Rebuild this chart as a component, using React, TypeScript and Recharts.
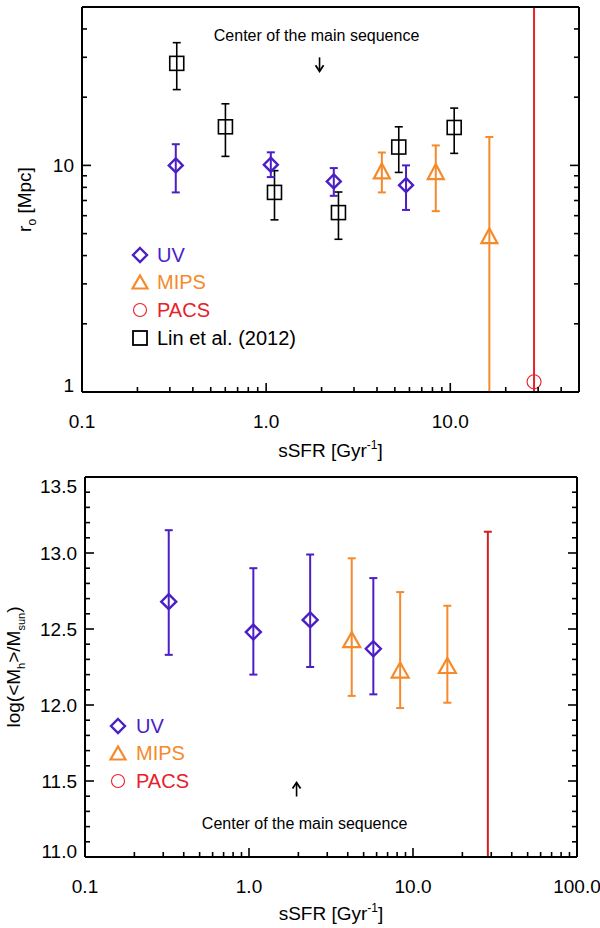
import React from "react";
import { ScatterChart, Scatter, XAxis, YAxis, ErrorBar, ReferenceDot, Legend, Label } from "recharts";

// ---- top panel: r0 vs sSFR ----
const uvTopX = [0.323, 1.06, 2.33, 5.75];
const uvTopY = [10.0, 10.07, 8.5, 8.18];
const uvTopLo = [7.6, 8.88, 7.34, 6.36];
const uvTopHi = [12.4, 11.42, 9.73, 10.0];

const mipsTopX = [4.25, 8.34, 16.3];
const mipsTopY = [9.31, 9.25, 4.82];
const mipsTopLo = [7.6, 6.28, 1.0];
const mipsTopHi = [11.4, 12.25, 13.35];

const pacsTopX = [28.5];
const pacsTopY = [1.11];
const pacsTopLo = [1.0];
const pacsTopHi = [50];

const linX = [0.327, 0.601, 1.11, 2.47, 5.25, 10.5];
const linY = [28.2, 14.8, 7.6, 6.19, 12.05, 14.7];
const linLo = [21.6, 10.96, 5.75, 4.72, 9.31, 11.3];
const linHi = [34.8, 18.7, 9.48, 7.63, 14.8, 17.9];

// ---- bottom panel: log halo mass vs sSFR ----
const uvBotX = [0.324, 1.063, 2.36, 5.73];
const uvBotY = [12.68, 12.48, 12.56, 12.37];
const uvBotLo = [12.33, 12.2, 12.25, 12.07];
const uvBotHi = [13.15, 12.9, 12.99, 12.835];

const mipsBotX = [4.23, 8.35, 16.2];
const mipsBotY = [12.42, 12.22, 12.25];
const mipsBotLo = [12.06, 11.98, 12.015];
const mipsBotHi = [12.965, 12.743, 12.653];

const pacsBotX = [28.6];
const pacsBotY = [11.0];
const pacsBotLo = [11.0];
const pacsBotHi = [13.14];

// axis ticks
const xMajorTop = [0.1, 1, 10];
const xMinorTop = [0.2, 0.3, 0.4, 0.5, 0.6, 0.7, 0.8, 0.9, 2, 3, 4, 5, 6, 7, 8, 9, 20, 30, 40];
const xMajorBot = [0.1, 1, 10, 100];
const xMinorBot = [...xMinorTop, 50, 60, 70, 80, 90];
const yMajorTop = [1, 10];
const yMinorTop = [2, 3, 4, 5, 6, 7, 8, 9, 20, 30, 40];
const yMajorBot = [11.0, 11.5, 12.0, 12.5, 13.0, 13.5];
const yMinorBot = [11.1, 11.2, 11.3, 11.4, 11.6, 11.7, 11.8, 11.9, 12.1, 12.2, 12.3, 12.4, 12.6, 12.7, 12.8, 12.9, 13.1, 13.2, 13.3, 13.4];

const UV = "#4b1ec6";
const MIPS = "#f58a2a";
const PACS = "#e8202a";
const PACS_DARK = "#d21f1f";
const FONT = "'Liberation Sans', Arial, sans-serif";

function rows(xs: number[], ys: number[], lo: number[], hi: number[]) {
  return xs.map((x, i) => ({ x, y: ys[i], err: [ys[i] - lo[i], hi[i] - ys[i]] }));
}

const isMajor = (list: number[], v: number) => list.some((m) => Math.abs(m - v) < 1e-9);

function fmtX(v: number) {
  return v === 0.1 ? "0.1" : v.toFixed(1);
}

function makeXTick(majors: number[], side: "bottom" | "top", labels: boolean) {
  return (props: any) => {
    const { x, y, payload } = props;
    const major = isMajor(majors, payload.value);
    const len = major ? 9 : 5;
    const dir = side === "bottom" ? -1 : 1;
    return (
      <g>
        <line x1={x} x2={x} y1={y} y2={y + dir * len} stroke="#000" strokeWidth={1.6} />
        {labels && major && (
          <text x={x} y={y + 36} textAnchor="middle" fontFamily={FONT} fontSize={19} fill="#000">
            {fmtX(payload.value)}
          </text>
        )}
      </g>
    );
  };
}

function makeYTick(majors: number[], side: "left" | "right", fmt: ((v: number) => string) | null, shift: (v: number) => number) {
  return (props: any) => {
    const { x, y, payload } = props;
    const major = isMajor(majors, payload.value);
    const len = major ? 9 : 5;
    const dir = side === "left" ? 1 : -1;
    return (
      <g>
        <line x1={x} x2={x + dir * len} y1={y} y2={y} stroke="#000" strokeWidth={1.6} />
        {fmt && major && (
          <text x={x - 8} y={y + 7 + shift(payload.value)} textAnchor="end" fontFamily={FONT} fontSize={19} fill="#000">
            {fmt(payload.value)}
          </text>
        )}
      </g>
    );
  };
}

const diamond = (color: string, r = 7) => (p: any) => (
  <path d={`M${p.cx},${p.cy - r} L${p.cx + r},${p.cy} L${p.cx},${p.cy + r} L${p.cx - r},${p.cy} Z`} fill="none" stroke={color} strokeWidth={2.4} />
);
const triangle = (color: string, w = 8, h = 15) => (p: any) => (
  <path d={`M${p.cx},${p.cy - h * 0.6} L${p.cx + w},${p.cy + h * 0.4} L${p.cx - w},${p.cy + h * 0.4} Z`} fill="none" stroke={color} strokeWidth={2.2} />
);
const square = (color: string, s = 7) => (p: any) => (
  <rect x={p.cx - s} y={p.cy - s} width={2 * s} height={2 * s} fill="none" stroke={color} strokeWidth={1.6} />
);
const circle = (color: string, r = 7) => (p: any) => <circle cx={p.cx} cy={p.cy} r={r} fill="none" stroke={color} strokeWidth={1.1} />;
const nothing = () => <g />;

type LegendItem = { label: string; color: string; textColor: string; kind: "d" | "t" | "c" | "s" };

function LegendBox({ items, gap }: { items: LegendItem[]; gap: number }) {
  return (
    <div style={{ fontFamily: FONT, fontSize: 20, textAlign: "left" }}>
      {items.map((it) => (
        <div key={it.label} style={{ height: 27.6, display: "flex", alignItems: "center", whiteSpace: "nowrap" }}>
          <svg width={16} height={16} style={{ overflow: "visible", flex: "none" }}>
            {it.kind === "d" && <path d="M8,1 L15,8 L8,15 L1,8 Z" fill="none" stroke={it.color} strokeWidth={2.4} />}
            {it.kind === "t" && <path d="M8,1.5 L15.5,14.5 L0.5,14.5 Z" fill="none" stroke={it.color} strokeWidth={2.2} />}
            {it.kind === "c" && <circle cx={8} cy={8} r={6.5} fill="none" stroke={it.color} strokeWidth={1.1} />}
            {it.kind === "s" && <rect x={1} y={1} width={14} height={14} fill="none" stroke={it.color} strokeWidth={1.8} />}
          </svg>
          <span style={{ marginLeft: gap, color: it.textColor, lineHeight: "20px" }}>{it.label}</span>
        </div>
      ))}
    </div>
  );
}

const topLegend: LegendItem[] = [
  { label: "UV", color: UV, textColor: UV, kind: "d" },
  { label: "MIPS", color: MIPS, textColor: MIPS, kind: "t" },
  { label: "PACS", color: PACS, textColor: PACS, kind: "c" },
  { label: "Lin et al. (2012)", color: "#000", textColor: "#000", kind: "s" },
];
const botLegend = topLegend.slice(0, 3);

function XTitle(props: any) {
  const { x, y, width } = props.viewBox;
  return (
    <text x={x + width / 2} y={y + props.dyBase} textAnchor="middle" fontFamily={FONT} fontSize={19} fill="#000">
      sSFR [Gyr
      <tspan fontSize={12} dy={-8}>-1</tspan>
      <tspan dy={8}>]</tspan>
    </text>
  );
}

function ArrowNote({ cx, cy, down }: { cx: number; cy: number; down: boolean }) {
  const s = down ? -1 : 1;
  return (
    <g>
      <line x1={cx} x2={cx} y1={cy} y2={cy + s * 14} stroke="#000" strokeWidth={1.6} />
      <path d={`M${cx - 4},${cy + s * 6} L${cx},${cy} L${cx + 4},${cy + s * 6}`} fill="none" stroke="#000" strokeWidth={1.8} />
      <text
        x={down ? cx - 3 : cx + 8}
        y={down ? cy - 30 : cy + 46}
        textAnchor="middle"
        fontFamily={FONT}
        fontSize={16}
        fill="#000"
      >
        Center of the main sequence
      </text>
    </g>
  );
}

function TopPanel() {
  const axisLine = { stroke: "#000", strokeWidth: 2 };
  return (
    <ScatterChart width={600} height={464} margin={{ top: 6, right: 20, bottom: 0, left: 0 }}>
      <XAxis
        xAxisId={0}
        dataKey="x"
        type="number"
        scale="log"
        domain={[0.1, 50]}
        allowDataOverflow
        ticks={[...xMajorTop, ...xMinorTop]}
        interval={0}
        tickSize={0}
        tickMargin={0}
        tickLine={false}
        axisLine={axisLine}
        tick={makeXTick(xMajorTop, "bottom", true)}
        height={72}
      >
        <Label content={(p: any) => <XTitle {...p} dyBase={65} />} />
      </XAxis>
      <XAxis
        xAxisId="top"
        orientation="top"
        type="number"
        scale="log"
        domain={[0.1, 50]}
        allowDataOverflow
        ticks={[...xMajorTop, ...xMinorTop]}
        interval={0}
        tickSize={0}
        tickMargin={0}
        tickLine={false}
        axisLine={axisLine}
        tick={makeXTick(xMajorTop, "top", false)}
        height={1}
      />
      <YAxis
        yAxisId={0}
        dataKey="y"
        type="number"
        scale="log"
        domain={[1, 50]}
        allowDataOverflow
        ticks={[...yMajorTop, ...yMinorTop]}
        interval={0}
        tickSize={0}
        tickMargin={0}
        tickLine={false}
        axisLine={axisLine}
        tick={makeYTick(yMajorTop, "left", (v) => String(v), (v) => (v === 1 ? -7 : 0))}
        width={82}
      >
        <Label
          content={(p: any) => {
            const { y, height } = p.viewBox;
            const cy = y + height / 2;
            return (
              <text x={31} y={cy} transform={`rotate(-90 31 ${cy})`} textAnchor="middle" fontFamily={FONT} fontSize={19} fill="#000">
                r<tspan fontSize={12} dy={5}>o</tspan>
                <tspan dy={-5}> [Mpc]</tspan>
              </text>
            );
          }}
        />
      </YAxis>
      <YAxis
        yAxisId="right"
        orientation="right"
        type="number"
        scale="log"
        domain={[1, 50]}
        allowDataOverflow
        ticks={[...yMajorTop, ...yMinorTop]}
        interval={0}
        tickSize={0}
        tickMargin={0}
        tickLine={false}
        axisLine={axisLine}
        tick={makeYTick(yMajorTop, "right", null, () => 0)}
        width={1}
      />
      <Scatter data={rows(pacsTopX, pacsTopY, pacsTopLo, pacsTopHi)} shape={circle(PACS)} isAnimationActive={false}>
        <ErrorBar dataKey="err" direction="y" width={4} stroke={PACS} strokeWidth={2} />
      </Scatter>
      <Scatter data={rows(linX, linY, linLo, linHi)} shape={square("#000")} isAnimationActive={false}>
        <ErrorBar dataKey="err" direction="y" width={4} stroke="#000" strokeWidth={1.6} />
      </Scatter>
      <Scatter data={rows(mipsTopX, mipsTopY, mipsTopLo, mipsTopHi)} shape={triangle(MIPS)} isAnimationActive={false}>
        <ErrorBar dataKey="err" direction="y" width={4} stroke={MIPS} strokeWidth={2} />
      </Scatter>
      <Scatter data={rows(uvTopX, uvTopY, uvTopLo, uvTopHi)} shape={diamond(UV)} isAnimationActive={false}>
        <ErrorBar dataKey="err" direction="y" width={4} stroke={UV} strokeWidth={2} />
      </Scatter>
      <ReferenceDot x={1.95} y={26} shape={(p: any) => <ArrowNote cx={p.cx} cy={p.cy} down />} />
      <Legend
        layout="horizontal"
        align="center"
        verticalAlign="middle"
        wrapperStyle={{ left: 132, top: 241, width: "auto" }}
        content={() => <LegendBox items={topLegend} gap={9} />}
      />
    </ScatterChart>
  );
}

function BottomPanel() {
  const axisLine = { stroke: "#000", strokeWidth: 2 };
  return (
    <ScatterChart width={600} height={464} margin={{ top: 12, right: 22, bottom: 0, left: 0 }}>
      <XAxis
        xAxisId={0}
        dataKey="x"
        type="number"
        scale="log"
        domain={[0.1, 100]}
        allowDataOverflow
        ticks={[...xMajorBot, ...xMinorBot]}
        interval={0}
        tickSize={0}
        tickMargin={0}
        tickLine={false}
        axisLine={axisLine}
        tick={makeXTick(xMajorBot, "bottom", true)}
        height={71}
      >
        <Label content={(p: any) => <XTitle {...p} dyBase={63} />} />
      </XAxis>
      <XAxis
        xAxisId="top"
        orientation="top"
        type="number"
        scale="log"
        domain={[0.1, 100]}
        allowDataOverflow
        ticks={[...xMajorBot, ...xMinorBot]}
        interval={0}
        tickSize={0}
        tickMargin={0}
        tickLine={false}
        axisLine={axisLine}
        tick={makeXTick(xMajorBot, "top", false)}
        height={1}
      />
      <YAxis
        yAxisId={0}
        dataKey="y"
        type="number"
        domain={[11, 13.5]}
        allowDataOverflow
        ticks={[...yMajorBot, ...yMinorBot]}
        interval={0}
        tickSize={0}
        tickMargin={0}
        tickLine={false}
        axisLine={axisLine}
        tick={makeYTick(yMajorBot, "left", (v) => v.toFixed(1), (v) => (v === 13.5 ? 9 : v === 11 ? -6 : 0))}
        width={85}
      >
        <Label
          content={(p: any) => {
            const { y, height } = p.viewBox;
            const cy = y + height / 2;
            return (
              <text x={20} y={cy} transform={`rotate(-90 20 ${cy})`} textAnchor="middle" fontFamily={FONT} fontSize={19} fill="#000">
                {"log(<M"}
                <tspan fontSize={11} dy={5}>h</tspan>
                <tspan dy={-5}>{">/M"}</tspan>
                <tspan fontSize={11} dy={5}>sun</tspan>
                <tspan dy={-5}>)</tspan>
              </text>
            );
          }}
        />
      </YAxis>
      <YAxis
        yAxisId="right"
        orientation="right"
        type="number"
        domain={[11, 13.5]}
        allowDataOverflow
        ticks={[...yMajorBot, ...yMinorBot]}
        interval={0}
        tickSize={0}
        tickMargin={0}
        tickLine={false}
        axisLine={axisLine}
        tick={makeYTick(yMajorBot, "right", null, () => 0)}
        width={1}
      />
      <Scatter data={rows(pacsBotX, pacsBotY, pacsBotLo, pacsBotHi)} shape={nothing} isAnimationActive={false}>
        <ErrorBar dataKey="err" direction="y" width={4} stroke={PACS_DARK} strokeWidth={2} />
      </Scatter>
      <Scatter data={rows(mipsBotX, mipsBotY, mipsBotLo, mipsBotHi)} shape={triangle(MIPS, 8.5, 15)} isAnimationActive={false}>
        <ErrorBar dataKey="err" direction="y" width={4} stroke={MIPS} strokeWidth={2} />
      </Scatter>
      <Scatter data={rows(uvBotX, uvBotY, uvBotLo, uvBotHi)} shape={diamond(UV, 7.5)} isAnimationActive={false}>
        <ErrorBar dataKey="err" direction="y" width={4} stroke={UV} strokeWidth={2} />
      </Scatter>
      <ReferenceDot x={1.95} y={11.49} shape={(p: any) => <ArrowNote cx={p.cx} cy={p.cy} down={false} />} />
      <Legend
        layout="horizontal"
        align="center"
        verticalAlign="middle"
        wrapperStyle={{ left: 110, top: 248, width: "auto" }}
        content={() => <LegendBox items={botLegend} gap={10} />}
      />
    </ScatterChart>
  );
}

export default function App() {
  return (
    <div style={{ position: "absolute", left: 0, top: 0, width: 600, height: 928, background: "#fff" }}>
      <TopPanel />
      <BottomPanel />
    </div>
  );
}
